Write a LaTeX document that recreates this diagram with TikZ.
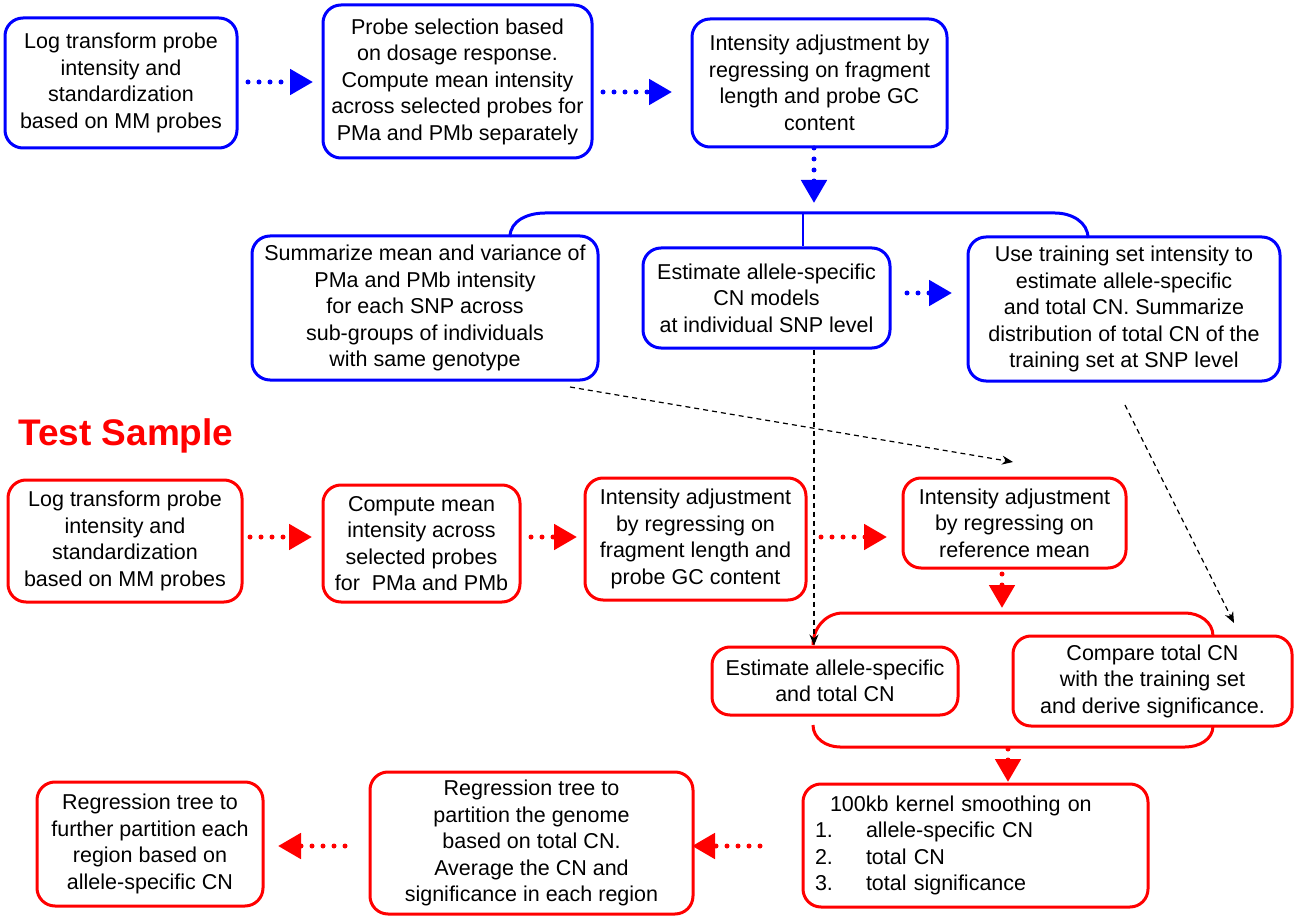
\documentclass[tikz,border=0pt]{standalone}
\usepackage{fontspec}
\setmainfont{Liberation Sans}
\usetikzlibrary{arrows.meta}
\definecolor{bblue}{RGB}{0,0,255}
\definecolor{rred}{RGB}{255,0,0}
\begin{document}
\begin{tikzpicture}[x=1pt,y=-1pt,
 box/.style={draw, line width=3pt, rounded corners=18pt, align=center, inner sep=0pt, font=\fontsize{21.5}{26.5}\selectfont},
 bbox/.style={box, draw=bblue},
 rbox/.style={box, draw=rred},
 dotarr/.style={line width=5pt, line cap=round, dash pattern=on 0pt off 11pt, -{Triangle[length=23pt,width=25pt]}},
 bdot/.style={dotarr, bblue},
 rdot/.style={dotarr, rred},
 dasharr/.style={line width=1.2pt, dash pattern=on 5pt off 4pt, -{Stealth[length=11pt,width=9pt]}},
 brk/.style={line width=3pt}
]
\useasboundingbox (0,0) rectangle (1294,920);

% ---- training (blue) ----
\node[bbox, minimum width=232pt, minimum height=130pt] (B1) at (121,83)
  {Log transform probe\\intensity and\\standardization\\based on MM probes};
\node[bbox, minimum width=269pt, minimum height=153pt] (B2) at (457.5,81.5)
  {Probe selection based\\on dosage response.\\Compute mean intensity\\across selected probes for\\PMa and PMb separately};
\node[bbox, minimum width=255pt, minimum height=128pt] (B3) at (819.5,83)
  {Intensity adjustment by\\regressing on fragment\\length and probe GC\\content};
\node[bbox, minimum width=346pt, minimum height=144pt] (M1) at (425,308)
  {Summarize mean and variance of\\PMa and PMb intensity\\for each SNP across\\sub-groups of individuals\\with same genotype};
\node[bbox, minimum width=247pt, minimum height=100pt] (M2) at (766.5,298)
  {Estimate allele-specific\\CN models\\at individual SNP level};
\node[bbox, minimum width=312pt, minimum height=144pt] (M3) at (1124,309)
  {Use training set intensity to\\estimate allele-specific\\and total CN. Summarize\\distribution of total CN of the\\training set at SNP level};

\coordinate (a1s) at (248,82);  \coordinate (a1e) at (313,82);
\coordinate (a2s) at (603,92);  \coordinate (a2e) at (672,92);
\coordinate (a3s) at (814,148); \coordinate (a3e) at (814,203);
\coordinate (a4s) at (907,293); \coordinate (a4e) at (952,293);
\draw[bdot] (a1s) -- (a1e);
\draw[bdot] (a2s) -- (a2e);
\draw[bdot] (a3s) -- (a3e);
\draw[bdot] (a4s) -- (a4e);

% blue bracket
\draw[brk, bblue] (510,237) to[out=90,in=180] (545,213) -- (1055,213) to[out=0,in=90] (1088,238);
\draw[line width=2.5pt, bblue] (803,213) -- (M2.north -| 803,0);

% ---- test sample (red) ----
\node[anchor=base west, text=rred, inner sep=0pt, font=\fontsize{37}{40}\selectfont\bfseries] (TS) at (18,445) {Test Sample};

\node[rbox, minimum width=234pt, minimum height=122pt] (R1) at (125,541)
  {Log transform probe\\intensity and\\standardization\\based on MM probes};
\node[rbox, minimum width=197pt, minimum height=117pt] (R2) at (421.5,543.5)
  {Compute mean\\intensity across\\selected probes\\for~ PMa and PMb};
\node[rbox, minimum width=221pt, minimum height=122pt] (R3) at (695.5,539)
  {Intensity adjustment\\by regressing on\\fragment length and\\probe GC content};
\node[rbox, minimum width=223pt, minimum height=90pt] (R4) at (1014.5,523)
  {Intensity adjustment\\by regressing on\\reference mean};
\node[rbox, minimum width=246pt, minimum height=68pt] (R5) at (835,681)
  {Estimate allele-specific\\and total CN};
\node[rbox, minimum width=279pt, minimum height=90pt] (R6) at (1152.5,681)
  {Compare total CN\\with the training set\\and derive significance.};
\node[rbox, minimum width=345pt, minimum height=123pt, text width=321pt, align=left] (R7) at (975.5,845.5)
  {\hspace*{15pt}100kb kernel smoothing on\\
   \makebox[51pt][l]{1.}allele-specific CN\\
   \makebox[51pt][l]{2.}total CN\\
   \makebox[51pt][l]{3.}total significance};
\node[rbox, minimum width=323pt, minimum height=142pt] (R8) at (531.5,843)
  {Regression tree to\\partition the genome\\based on total CN.\\Average the CN and\\significance in each region};
\node[rbox, minimum width=226pt, minimum height=124pt] (R9) at (150,844)
  {Regression tree to\\further partition each\\region based on\\allele-specific CN};

\coordinate (r1s) at (250,537);  \coordinate (r1e) at (312,537);
\coordinate (r2s) at (531,537);  \coordinate (r2e) at (577,537);
\coordinate (r3s) at (821,537);  \coordinate (r3e) at (887,537);
\coordinate (r4s) at (1002,574); \coordinate (r4e) at (1002,608);
\coordinate (r5s) at (1008,749); \coordinate (r5e) at (1008,782);
\coordinate (r6s) at (760,846);  \coordinate (r6e) at (692,846);
\coordinate (r7s) at (345,846);  \coordinate (r7e) at (278,846);
\draw[rdot] (r1s) -- (r1e);
\draw[rdot] (r2s) -- (r2e);
\draw[rdot] (r3s) -- (r3e);
\draw[rdot] (r4s) -- (r4e);
\draw[rdot] (r5s) -- (r5e);
\draw[rdot] (r6s) -- (r6e);
\draw[rdot] (r7s) -- (r7e);

% red bracket
\draw[brk, rred] (813,645) to[out=90,in=180] (843,613) -- (1185,613) to[out=0,in=90] (1213,636);
\draw[brk, rred] (813,725) to[out=-90,in=180] (840,747) -- (1185,747) to[out=0,in=-90] (1213,726);

% dashed connectors
\coordinate (d1s) at (570,387);
\coordinate (d1e) at (1013,462);
\draw[dasharr] (d1s) -- (d1e);
\draw[dasharr] (M2.south -| 814,0) -- (R5.north -| 814,0);
\coordinate (d3s) at (1125,405);
\coordinate (d3e) at (1234,623);
\draw[dasharr] (d3s) -- (d3e);
\end{tikzpicture}
\end{document}
